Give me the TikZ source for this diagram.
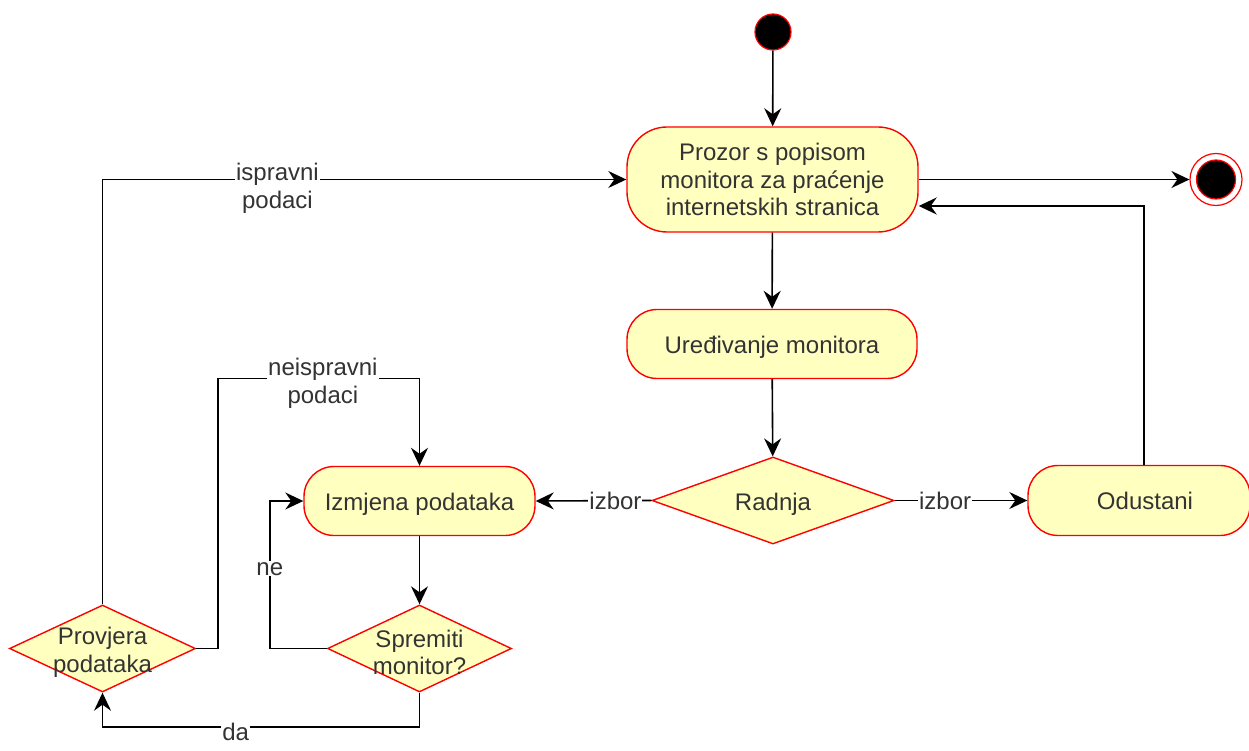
\documentclass[tikz,border=0pt]{standalone}
\usepackage{fontspec}
\setmainfont{Liberation Sans}
\usetikzlibrary{shapes.geometric,arrows.meta,calc}
\definecolor{boxfill}{HTML}{FFFFC0}
\definecolor{boxline}{HTML}{FF0000}
\definecolor{txt}{HTML}{333333}
\tikzset{
  x=1pt, y=-1pt,
  every node/.style={font=\fontsize{24}{27.5}\selectfont, text=txt},
  actbox/.style={draw=boxline, fill=boxfill, line width=1.4pt, align=center, inner sep=0pt},
  decis/.style={diamond, draw=boxline, fill=boxfill, line width=1.4pt, inner sep=0pt},
  inner/.style={text=txt, align=center, yshift=#1},
  arr/.style={line width=1.6pt, -{Stealth[length=18pt,width=17pt,inset=6pt]}},
  lbl/.style={fill=white, inner sep=1pt, align=center},
}
\begin{document}
\begin{tikzpicture}
\useasboundingbox (0,0) rectangle (1249,751);
% nodes
\node[circle, draw=boxline, fill=black, line width=1.2pt, minimum size=36pt, inner sep=0pt] (start) at (773,32) {};
\node[actbox, rounded corners=40pt, minimum width=291pt, minimum height=105pt] (prozor) at (772.5,179.5) {Prozor s popisom\\monitora za praćenje\\internetskih stranica};
\node[circle, draw=boxline, fill=white, line width=1.2pt, minimum size=52pt, inner sep=0pt] (end) at (1216,179.5) {};
\node[circle, draw=boxline, fill=black, line width=1.2pt, minimum size=39pt, inner sep=0pt] (endin) at (end) {};
\node[actbox, rounded corners=30pt, minimum width=290pt, minimum height=69pt, label={[inner=-3.5pt]center:Uređivanje monitora}] (uredj) at (772,344) {};
\node[decis, minimum width=242pt, minimum height=87pt, label={[inner=-4pt]center:Radnja}] (radnja) at (773,500.5) {};
\node[actbox, rounded corners=30pt, minimum width=222pt, minimum height=70pt] (odustani) at (1139,500.5) {};
\node at (1145,500.5) {Odustani};
\node[actbox, rounded corners=30pt, minimum width=231pt, minimum height=69pt, label={[inner=-3pt]center:Izmjena podataka}] (izmjena) at (419.5,501) {};
\node[decis, minimum width=184pt, minimum height=87pt, label={[inner=-4pt]center:Spremiti\\monitor?}] (spremiti) at (419.5,648.5) {};
\node[decis, minimum width=186pt, minimum height=87pt, label={[inner=-4pt]center:Provjera\\podataka}] (provjera) at (102.5,648.5) {};
% connectors
\draw[arr] (start) -- (prozor);
\draw[arr] (prozor.east) -- (end);
\draw[arr] ([xshift=5pt]odustani.north) |- ($(prozor.east)+(0,26.5)$);
\draw[arr] (prozor) -- (uredj);
\draw[arr] (uredj) -- (radnja);
\draw[arr] (radnja.east) -- node[lbl, pos=0.38] {izbor} (odustani.west);
\draw[arr] (radnja.west) -- node[lbl, pos=0.31] {izbor} (izmjena.east);
\draw[arr] (izmjena) -- (spremiti);
\draw[arr] (spremiti.west) -- ++(-57,0) |- node[lbl, pos=0.27] {ne} (izmjena.west);
\draw[arr] (spremiti.south) -- ++(0,34) -| node[lbl, pos=0.29, yshift=-5pt] {da} (provjera.south);
\draw[arr] (provjera.north) |- node[lbl, pos=0.667, yshift=-9pt] {ispravni\\podaci} (prozor.west);
\draw[arr] (provjera.east) -- ++(22,0) |- node[lbl, pos=0.76, yshift=-5pt] {neispravni\\podaci} ($(izmjena.north)+(0,-87.5)$) -- (izmjena.north);
\end{tikzpicture}
\end{document}
